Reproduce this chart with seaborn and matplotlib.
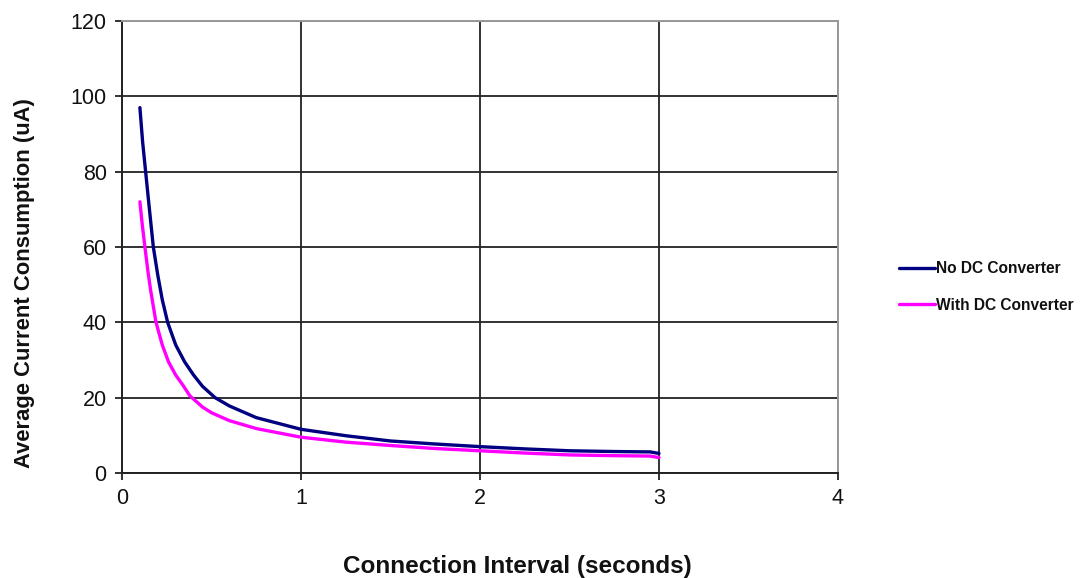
import matplotlib
matplotlib.use("Agg")
import matplotlib.pyplot as plt
import seaborn as sns
import pandas as pd

no_dc_x = [0.1, 0.115, 0.132, 0.15, 0.175, 0.2, 0.225, 0.255, 0.3, 0.35, 0.4, 0.45,
           0.52, 0.6, 0.75, 1.0, 1.25, 1.5, 1.75, 2.0, 2.25, 2.5, 2.75, 2.95, 3.0]
no_dc = [97, 88, 80, 71.5, 60, 52.5, 46, 40, 34, 29.5, 26, 23,
         20, 17.8, 14.7, 11.6, 9.9, 8.5, 7.7, 7.0, 6.4, 5.9, 5.7, 5.6, 5.2]
with_dc_x = [0.1, 0.113, 0.128, 0.145, 0.16, 0.19, 0.225, 0.26, 0.3, 0.342, 0.379, 0.45,
             0.5, 0.6, 0.75, 1.0, 1.25, 1.5, 1.75, 2.0, 2.25, 2.5, 2.75, 2.95, 3.0]
with_dc = [72, 66, 60, 53.5, 48.5, 40, 34, 29.5, 26, 23.2, 20.5, 17.5,
           16, 13.9, 11.8, 9.5, 8.2, 7.3, 6.5, 5.9, 5.3, 4.8, 4.6, 4.5, 4.1]
series_names = ["No DC Converter", "With DC Converter"]
x_ticks = [0, 1, 2, 3, 4]
y_ticks = [0, 20, 40, 60, 80, 100, 120]

df = pd.DataFrame({
    "x": no_dc_x + with_dc_x,
    "y": no_dc + with_dc,
    "series": [series_names[0]] * len(no_dc_x) + [series_names[1]] * len(with_dc_x),
})

sns.set_theme(style="white")
plt.rcParams["font.family"] = ["Liberation Sans", "DejaVu Sans"]

fig = plt.figure(figsize=(10.81, 5.78), dpi=100)
ax = fig.add_axes([122 / 1081, 1 - 473 / 578, (838 - 122) / 1081, (473 - 21) / 578])

sns.lineplot(data=df, x="x", y="y", hue="series",
             palette={series_names[0]: "#000080", series_names[1]: "#FF00FF"},
             linewidth=2.4, ax=ax, legend=True, zorder=3, sort=True)

ax.set_xlim(0, 4)
ax.set_ylim(0, 120)
ax.set_xticks(x_ticks)
ax.set_yticks(y_ticks)
ax.tick_params(axis="both", labelsize=15.5, length=5, width=1.3, color="#222222",
               direction="out", bottom=True, left=True, pad=6)
for t in ax.get_xticklabels() + ax.get_yticklabels():
    t.set_color("#111111")

ax.grid(True, color="#222222", linewidth=1.3)
for side in ["left", "bottom"]:
    ax.spines[side].set_color("#222222")
    ax.spines[side].set_linewidth(1.4)
for side in ["top", "right"]:
    ax.spines[side].set_color("#999999")
    ax.spines[side].set_linewidth(1.4)
ax.spines["top"].set_zorder(4)

ax.set_xlabel("")
ax.set_ylabel("")
fig.text(25 / 1081, 1 - 283.5 / 578, "Average Current Consumption (uA)", fontsize=15.8,
         fontweight="bold", color="#111111", ha="center", va="center", rotation=90)
fig.text(517 / 1081, 1 - 566 / 578, "Connection Interval (seconds)", fontsize=17.5,
         fontweight="bold", color="#111111", ha="center", va="center")

leg = ax.legend(loc="center left", bbox_to_anchor=(899 / 1081, 1 - 287 / 578),
                bbox_transform=fig.transFigure, frameon=False,
                prop={"size": 11.2, "weight": "bold"}, handlelength=2.3,
                handletextpad=0.1, labelspacing=1.4, borderaxespad=0, borderpad=0)
for line in leg.get_lines():
    line.set_linewidth(2.4)
for t in leg.get_texts():
    t.set_color("#111111")

fig.savefig("out.png", dpi=100, facecolor="white")
